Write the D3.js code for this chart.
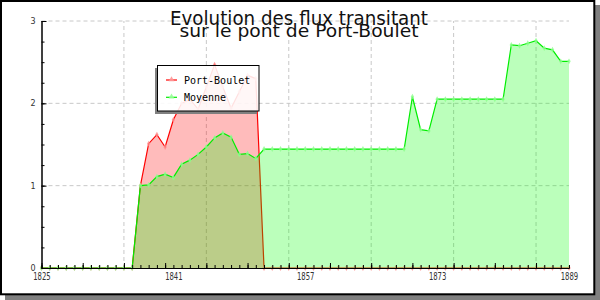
<!DOCTYPE html>
<html>
<head>
<meta charset="utf-8">
<script src="https://cdn.jsdelivr.net/npm/d3@7"></script>
<style>
  body { margin: 0; background: #fff; }
  svg { display: block; }
</style>
</head>
<body>
<script>
// data
var years = d3.range(1825, 1890);
var portBoulet = [
  0, 0, 0, 0, 0, 0, 0, 0, 0, 0, 0, 0,
  1.0, 1.51, 1.62, 1.47, 1.80, 2.0, 2.05, 1.93, 2.2, 2.47, 2.2, 1.94, 2.14, 2.34, 2.30,
  0, 0, 0, 0, 0, 0, 0, 0, 0, 0, 0, 0, 0, 0, 0, 0, 0, 0, 0,
  0, 0, 0, 0, 0, 0, 0, 0, 0, 0, 0, 0, 0, 0, 0, 0, 0, 0, 0
];
var moyenne = [
  0, 0, 0, 0, 0, 0, 0, 0, 0, 0, 0, 0,
  1.0, 1.01, 1.11, 1.14, 1.10, 1.26, 1.31, 1.38, 1.47, 1.58, 1.64, 1.59, 1.38, 1.39, 1.33,
  1.445, 1.445, 1.445, 1.445, 1.445, 1.445, 1.445, 1.445, 1.445,
  1.445, 1.445, 1.445, 1.445, 1.445, 1.445, 1.445, 1.445, 1.445,
  2.08, 1.68, 1.665,
  2.05, 2.05, 2.05, 2.05, 2.05, 2.05, 2.05, 2.05, 2.05,
  2.71, 2.70, 2.73, 2.76, 2.67, 2.65, 2.51, 2.51
];
var xLabels = [1825, 1841, 1857, 1873, 1889];
var xMajor = d3.range(1825, 1890, 5);
var xGrid = [1835, 1845, 1855, 1865, 1875, 1885];
var yLabels = [0, 1, 2, 3];
var yMinor = d3.range(0, 3.01, 0.25);
var seriesNames = ["Port-Boulet", "Moyenne"];
var titleLines = ["Evolution des flux transitant", "sur le pont de Port-Boulet"];

var W = 600, H = 300;
var svg = d3.select("body").append("svg").attr("width", W).attr("height", H);

// frame with shadow
svg.append("rect").attr("x", 5).attr("y", 5).attr("width", 595).attr("height", 295).attr("fill", "#808080");
svg.append("rect").attr("x", 1).attr("y", 1).attr("width", 593.3).attr("height", 293.3)
  .attr("fill", "#fff").attr("stroke", "#000").attr("stroke-width", 2);

var x = d3.scaleLinear().domain([1825, 1889]).range([41.5, 569]);
var y = d3.scaleLinear().domain([0, 3]).range([268, 21]);

// grid
var grid = svg.append("g").attr("stroke", "#c8c8c8").attr("stroke-dasharray", "4,3");
grid.selectAll("line.h").data([1, 2, 3]).enter().append("line")
  .attr("x1", x(1825)).attr("x2", x(1889))
  .attr("y1", function(d) { return y(d); }).attr("y2", function(d) { return y(d); });
grid.selectAll("line.v").data(xGrid).enter().append("line")
  .attr("y1", y(0)).attr("y2", y(3))
  .attr("x1", function(d) { return x(d); }).attr("x2", function(d) { return x(d); });

function drawSeries(values, lineColor, fillColor, markColor) {
  var pts = years.map(function(yr, i) { return [yr, values[i]]; });
  var area = d3.area().x(function(d) { return x(d[0]); }).y0(y(0)).y1(function(d) { return y(d[1]); });
  var line = d3.line().x(function(d) { return x(d[0]); }).y(function(d) { return y(d[1]); });
  svg.append("path").datum(pts).attr("d", area).attr("fill", fillColor);
  svg.append("path").datum(pts).attr("d", line).attr("fill", "none").attr("stroke", lineColor).attr("stroke-width", 1.2);
  svg.append("g").selectAll("path").data(pts).enter().append("path")
    .attr("d", d3.symbol().type(d3.symbolDiamond).size(10))
    .attr("transform", function(d) { return "translate(" + x(d[0]) + "," + y(d[1]) + ")"; })
    .attr("fill", markColor);
}
drawSeries(portBoulet, "#ff0000", "rgba(255,0,0,0.267)", "rgba(255,140,140,0.8)");
drawSeries(moyenne, "#00ee00", "rgba(0,255,0,0.267)", "rgba(140,255,140,0.8)");

// axes
var axX = svg.append("g").attr("transform", "translate(0," + y(0) + ")");
axX.call(d3.axisTop(x).tickValues(years).tickSize(3).tickSizeOuter(0).tickFormat(""));
axX.append("g").call(d3.axisTop(x).tickValues(xMajor).tickSize(5).tickSizeOuter(0).tickFormat(""));
var labX = svg.append("g").attr("transform", "translate(0," + y(0) + ")")
  .call(d3.axisBottom(x).tickValues(xLabels).tickSize(0).tickPadding(4).tickFormat(d3.format("d")));
labX.select(".domain").remove();
labX.selectAll("text").attr("font-family", "DejaVu Sans").attr("font-size", 11)
  .attr("fill", "#333").attr("textLength", 17.5).attr("lengthAdjust", "spacingAndGlyphs");

var axY = svg.append("g").attr("transform", "translate(" + x(1825) + ",0)");
axY.call(d3.axisRight(y).tickValues(yMinor).tickSize(3).tickSizeOuter(0).tickFormat(""));
axY.append("g").call(d3.axisRight(y).tickValues(yLabels).tickSize(5).tickSizeOuter(0).tickFormat(""));
var labY = svg.append("g").attr("transform", "translate(" + x(1825) + ",0)")
  .call(d3.axisLeft(y).tickValues(yLabels).tickSize(0).tickPadding(6).tickFormat(d3.format("d")));
labY.select(".domain").remove();
labY.selectAll("text").attr("font-family", "DejaVu Sans").attr("font-size", 8).attr("fill", "#333");
svg.selectAll(".domain, .tick line").attr("stroke", "#000");

// legend
var lg = svg.append("g");
lg.append("rect").attr("x", 155).attr("y", 68).attr("width", 3).attr("height", 46).attr("fill", "#808080");
lg.append("rect").attr("x", 155).attr("y", 111).attr("width", 102).attr("height", 3).attr("fill", "#808080");
lg.append("rect").attr("x", 157.5).attr("y", 65.5).attr("width", 101.5).attr("height", 45.5)
  .attr("fill", "rgba(255,255,255,0.88)").attr("stroke", "#000");
var legColors = [["#ff0000", "rgba(255,150,150,0.9)"], ["#00ee00", "rgba(150,255,150,0.9)"]];
seriesNames.forEach(function(name, i) {
  var ly = 80 + i * 17.3;
  lg.append("line").attr("x1", 166).attr("x2", 177).attr("y1", ly).attr("y2", ly)
    .attr("stroke", legColors[i][0]).attr("stroke-width", 1.2);
  lg.append("path").attr("d", d3.symbol().type(d3.symbolTriangle).size(14))
    .attr("transform", "translate(171.5," + (ly - 0.5) + ")").attr("fill", legColors[i][1]);
  lg.append("text").attr("x", 184).attr("y", ly + 3.5).text(name)
    .attr("font-family", "DejaVu Sans Mono").attr("font-size", 10).attr("fill", "#000");
});

// title
svg.append("text").attr("x", 299).attr("y", 25).attr("text-anchor", "middle")
  .attr("font-family", "DejaVu Sans").attr("font-size", 19).attr("fill", "#111")
  .attr("textLength", 258).attr("lengthAdjust", "spacingAndGlyphs").text(titleLines[0]);
svg.append("text").attr("x", 299).attr("y", 36.7).attr("text-anchor", "middle")
  .attr("font-family", "DejaVu Sans").attr("font-size", 18.5).attr("fill", "#111")
  .attr("textLength", 239).attr("lengthAdjust", "spacingAndGlyphs").text(titleLines[1]);
</script>
</body>
</html>
